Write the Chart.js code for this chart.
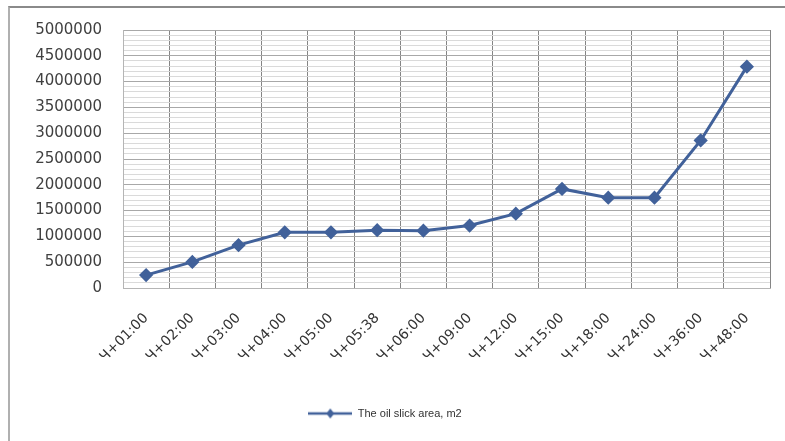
<!DOCTYPE html>
<html>
<head>
<meta charset="utf-8">
<script src="https://cdn.jsdelivr.net/npm/chart.js@4"></script>
<style>
  html, body { margin: 0; padding: 0; background: #fff; }
  #wrap { position: relative; width: 785px; height: 441px; }
  #frame {
    position: absolute; left: 8px; top: 6px; right: 0; bottom: 0;
    border-top: 2px solid #8a8a8a; border-left: 2px solid #b0b0b0;
  }
  canvas { position: absolute; left: 0; top: 0; }
</style>
</head>
<body>
<div id="wrap">
  <div id="frame"></div>
  <canvas id="myChart" width="785" height="441"></canvas>
</div>
<script>
// data
const timeLabels = ["Ч+01:00", "Ч+02:00", "Ч+03:00", "Ч+04:00", "Ч+05:00", "Ч+05:38", "Ч+06:00",
  "Ч+09:00", "Ч+12:00", "Ч+15:00", "Ч+18:00", "Ч+24:00", "Ч+36:00", "Ч+48:00"];
const slickArea = [250000, 505000, 830000, 1080000, 1080000, 1120000, 1110000,
  1210000, 1440000, 1920000, 1750000, 1750000, 2860000, 4290000];
const seriesName = "The oil slick area, m2";

const lineColor = "#41619a";

// legend marker: line with a diamond in the middle
const legendIcon = document.createElement("canvas");
legendIcon.width = 44;
legendIcon.height = 12;
const lc = legendIcon.getContext("2d");
lc.strokeStyle = lineColor;
lc.lineWidth = 2.5;
lc.beginPath();
lc.moveTo(0, 6);
lc.lineTo(44, 6);
lc.stroke();
lc.fillStyle = lineColor;
lc.beginPath();
lc.moveTo(22, 1);
lc.lineTo(26, 6);
lc.lineTo(22, 11);
lc.lineTo(18, 6);
lc.closePath();
lc.fill();

const ctx = document.getElementById("myChart").getContext("2d");

new Chart(ctx, {
  type: "line",
  data: {
    labels: timeLabels,
    datasets: [
      {
        label: seriesName,
        data: slickArea,
        borderColor: lineColor,
        backgroundColor: lineColor,
        borderWidth: 3,
        pointStyle: "rectRot",
        pointRadius: 5,
        pointBackgroundColor: lineColor,
        pointBorderColor: lineColor,
        fill: false,
        tension: 0,
      },
    ],
  },
  options: {
    responsive: false,
    animation: false,
    layout: { padding: { left: 0, right: 15, top: 30, bottom: 12 } },
    plugins: {
      tooltip: { enabled: false },
      legend: {
        position: "bottom",
        labels: {
          usePointStyle: true,
          pointStyleWidth: 44,
          color: "#333",
          font: { family: "Liberation Sans", size: 11 },
          padding: 8,
          generateLabels: (chart) => [
            {
              text: seriesName,
              pointStyle: legendIcon,
              fillStyle: lineColor,
              strokeStyle: lineColor,
              lineWidth: 0,
              datasetIndex: 0,
              fontColor: "#333",
            },
          ],
        },
      },
    },
    scales: {
      x: {
        offset: true,
        afterFit: (axis) => { axis.height = 112; },
        grid: {
          offset: true,
          color: "#858585",
          lineWidth: 1,
          drawTicks: false,
        },
        border: { color: "#b5b5b5" },
        ticks: {
          minRotation: 45,
          maxRotation: 45,
          autoSkip: false,
          padding: 22,
          color: "#333",
          font: { family: "DejaVu Sans", size: 14 },
        },
      },
      y: {
        min: 0,
        max: 5000000,
        afterFit: (axis) => { axis.width = 123; },
        grid: {
          drawTicks: false,
          color: (c) => (c.tick && c.tick.value % 500000 === 0 ? "#a8a8a8" : "#dadada"),
          lineWidth: 1,
        },
        border: { color: "#b5b5b5" },
        ticks: {
          stepSize: 100000,
          autoSkip: false,
          padding: 21,
          color: "#404040",
          font: { family: "DejaVu Sans", size: 15 },
          callback: (v) => (v % 500000 === 0 ? String(v) : ""),
        },
      },
    },
  },
});
</script>
</body>
</html>
